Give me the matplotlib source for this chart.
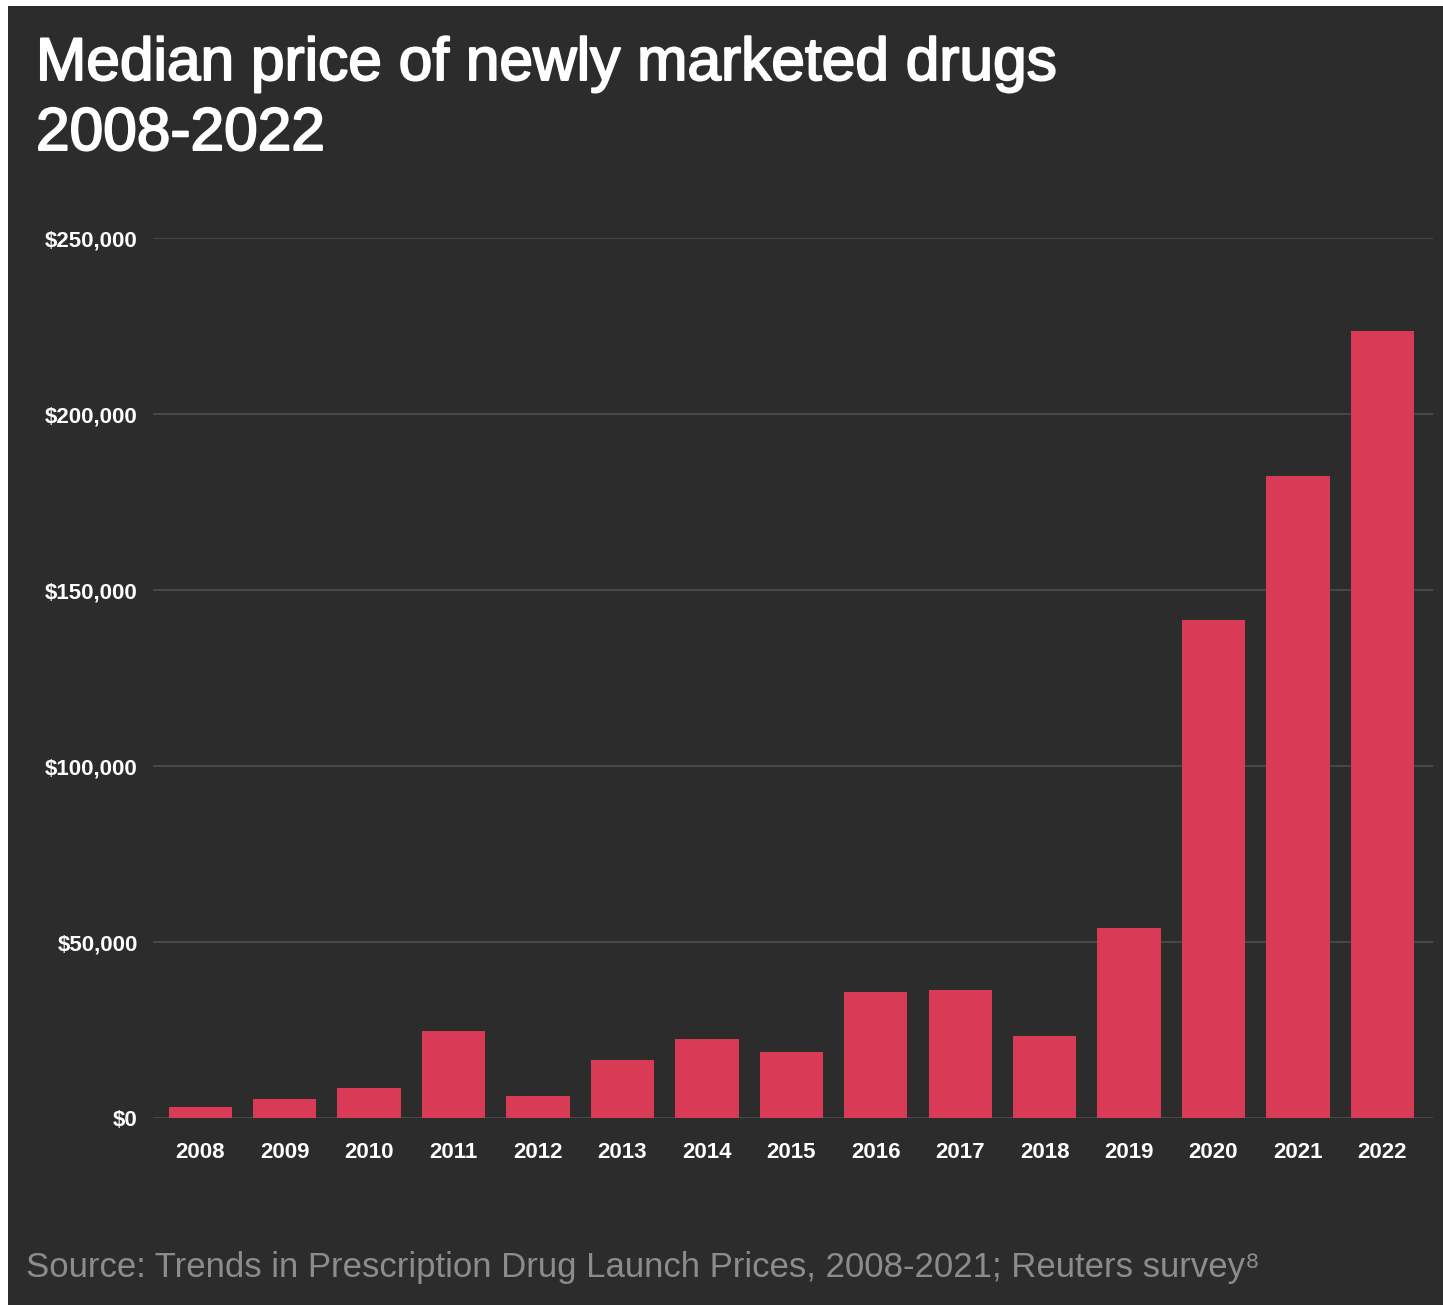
import matplotlib
matplotlib.use("Agg")
import matplotlib.pyplot as plt
import matplotlib.patheffects as pe
from matplotlib.patches import Rectangle
from matplotlib.ticker import FuncFormatter


# ----------------------------------------------------
# Data
# ----------------------------------------------------

years = [
    "2008", "2009", "2010", "2011", "2012",
    "2013", "2014", "2015", "2016", "2017",
    "2018", "2019", "2020", "2021", "2022"
]

median_price = [
    3200, 5400, 8400, 24600, 6200,
    16600, 22400, 18700, 35700, 36400,
    23300, 54100, 141500, 182500, 223600
]

y_ticks = [0, 50000, 100000, 150000, 200000, 250000]

title_lines = ["Median price of newly marketed drugs", "2008-2022"]

source_text = "Source: Trends in Prescription Drug Launch Prices, 2008-2021; Reuters survey\u2078"


# ----------------------------------------------------
# Style
# ----------------------------------------------------

bg_color = "#2c2c2c"
bar_color = "#d93a55"
grid_color = "#4a4a4a"

plt.rcParams["font.family"] = ["Liberation Sans", "DejaVu Sans"]

W, H = 1443, 1305

fig = plt.figure(figsize=(W / 100, H / 100), dpi=100)
fig.patch.set_facecolor("white")

# dark card, white strip on top and left edge
fig.patches.append(
    Rectangle(
        (8 / W, 0),
        1,
        (H - 6) / H,
        transform=fig.transFigure,
        facecolor=bg_color,
        edgecolor="none",
        zorder=-1
    )
)

ax = fig.add_axes([
    153 / W,
    (H - 1118) / H,
    (1433 - 153) / W,
    (1118 - 238) / H
])

ax.set_facecolor(bg_color)


# ----------------------------------------------------
# Bars
# ----------------------------------------------------

x = list(range(len(years)))

ax.bar(
    x,
    median_price,
    width=0.75,
    color=bar_color,
    zorder=3
)

ax.set_xlim(-0.56, len(years) - 1 + 0.6)
ax.set_ylim(0, 250000)

ax.set_xticks(x)
ax.set_xticklabels(years)
ax.set_yticks(y_ticks)

ax.yaxis.set_major_formatter(
    FuncFormatter(lambda v, pos: "${:,.0f}".format(v))
)

ax.grid(axis="y", color=grid_color, linewidth=1.3, zorder=0)
ax.set_axisbelow(True)

for spine in ax.spines.values():
    spine.set_visible(False)

ax.tick_params(
    axis="y",
    length=0,
    pad=11,
    labelsize=16,
    labelcolor="white"
)

ax.tick_params(
    axis="x",
    length=0,
    pad=17,
    labelsize=16,
    labelcolor="white"
)

for label in ax.get_xticklabels() + ax.get_yticklabels():
    label.set_fontweight("bold")


# ----------------------------------------------------
# Title and source
# ----------------------------------------------------

# a thin stroke gives the title its medium weight
title_effect = [pe.withStroke(linewidth=1.4, foreground="white")]

fig.text(
    36 / W,
    1 - 80 / H,
    title_lines[0],
    color="white",
    fontsize=43.5,
    va="baseline",
    path_effects=title_effect
)

fig.text(
    36 / W,
    1 - 150 / H,
    title_lines[1],
    color="white",
    fontsize=43.5,
    va="baseline",
    path_effects=title_effect
)

fig.text(
    26 / W,
    1 - 1277 / H,
    source_text,
    color="#8c8c8c",
    fontsize=25,
    va="baseline"
)

plt.savefig("out.png", dpi=100, facecolor=fig.get_facecolor())

plt.close()
